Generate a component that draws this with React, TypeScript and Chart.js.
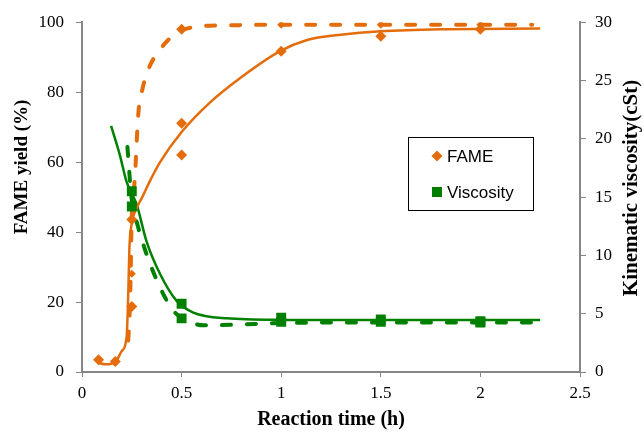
import React, { useEffect, useRef } from 'react';
import { Chart, registerables } from 'chart.js';

Chart.register(...registerables);

const ORANGE = '#E46C0A';
const GREEN = '#008000';
const AXIS_GRAY = '#868686';
const SERIF = '"Liberation Serif", "Times New Roman", serif';
const SANS = '"Liberation Sans", Arial, sans-serif';

// FAME yield markers (%), large diamonds
const fameTimeA = [0.083, 0.167, 0.25, 0.25, 0.5, 0.5, 0.5, 1, 1.5, 2];
const fameYieldA = [3.5, 3, 18.7, 43.6, 71.1, 62, 98, 91.7, 96, 98];
// FAME yield markers (%), small diamonds
const fameTimeB = [0.25, 1, 1.5, 2];
const fameYieldB = [28.1, 99.3, 99.3, 99.3];

// FAME solid curve
const fameSolidTime = [0.083, 0.12, 0.167, 0.2, 0.224, 0.233, 0.238, 0.249, 0.274, 0.3, 0.34, 0.392, 0.5, 0.643, 0.793, 0.99, 1.13, 1.3, 1.5, 1.8, 2.3];
const fameSolidYield = [2.6, 2.2, 2.8, 6, 10, 24, 35.5, 42.2, 46.8, 49.7, 54.5, 60, 68.6, 77.1, 84, 91.6, 94.9, 96.4, 97.4, 98.0, 98.2];

// FAME dashed curve
const fameDashTime = [0.232, 0.24, 0.245, 0.249, 0.258, 0.266, 0.283, 0.3, 0.333, 0.392, 0.475, 0.59, 0.73, 1.0, 1.5, 2.26];
const fameDashYield = [9, 18, 30, 43, 50, 56.3, 74, 80, 86.5, 92.2, 96.9, 98.8, 99.1, 99.3, 99.3, 99.3];

// Viscosity markers (cSt)
const viscTime = [0.25, 0.25, 0.5, 0.5, 1, 1, 1.5, 1.5, 2, 2];
const viscValue = [15.5, 14.2, 5.85, 4.6, 4.65, 4.3, 4.5, 4.3, 4.35, 4.25];

// Viscosity solid curve
const viscSolidTime = [0.146, 0.19, 0.224, 0.25, 0.274, 0.324, 0.392, 0.475, 0.559, 0.726, 1.0, 1.5, 2.3];
const viscSolidValue = [21.1, 18.6, 16.3, 15.3, 14.4, 11.2, 8.4, 6.1, 5.1, 4.6, 4.47, 4.45, 4.45];

// Viscosity dashed curve
const viscDashTime = [0.228, 0.236, 0.245, 0.255, 0.274, 0.324, 0.392, 0.458, 0.525, 0.61, 0.76, 1.0, 1.5, 2.28];
const viscDashValue = [19.3, 17.5, 15.5, 14.2, 12.9, 10.1, 7.25, 5.27, 4.42, 4.0, 4.05, 4.2, 4.25, 4.25];

const xTitle = 'Reaction time (h)';
const yTitle = 'FAME yield (%)';
const y2Title = 'Kinematic viscosity(cSt)';
const legendLabels = ['FAME', 'Viscosity'];

const zip = (xs: number[], ys: number[]) => xs.map((x, i) => ({ x, y: ys[i] }));

const overlayPlugin = {
  id: 'overlay',
  afterDraw(chart: any) {
    const ctx = chart.ctx as CanvasRenderingContext2D;
    const area = chart.chartArea;
    ctx.save();
    ctx.fillStyle = '#000';
    ctx.textAlign = 'center';
    ctx.textBaseline = 'middle';
    // x title
    ctx.font = `bold 20px ${SERIF}`;
    ctx.fillText(xTitle, (area.left + area.right) / 2, 420);
    // left title
    ctx.font = `bold 19px ${SERIF}`;
    ctx.save();
    ctx.translate(22.5, 167);
    ctx.rotate(-Math.PI / 2);
    ctx.fillText(yTitle, 0, 0);
    ctx.restore();
    // right title
    ctx.font = `bold 21px ${SERIF}`;
    ctx.save();
    ctx.translate(632, 188);
    ctx.rotate(-Math.PI / 2);
    ctx.fillText(y2Title, 0, 0);
    ctx.restore();

    // legend box
    ctx.strokeStyle = '#000';
    ctx.lineWidth = 1;
    ctx.strokeRect(408.5, 137.5, 125, 73);
    // diamond
    ctx.fillStyle = ORANGE;
    ctx.beginPath();
    ctx.moveTo(437, 150.5);
    ctx.lineTo(442.5, 156);
    ctx.lineTo(437, 161.5);
    ctx.lineTo(431.5, 156);
    ctx.closePath();
    ctx.fill();
    // square
    ctx.fillStyle = GREEN;
    ctx.fillRect(432, 187, 10, 10);
    ctx.fillStyle = '#000';
    ctx.font = `17px ${SANS}`;
    ctx.textAlign = 'left';
    ctx.fillText(legendLabels[0], 447, 157);
    ctx.fillText(legendLabels[1], 447, 193);
    ctx.restore();
  },
};

export default function App() {
  const ref = useRef<HTMLCanvasElement | null>(null);

  useEffect(() => {
    if (!ref.current) return;
    const tickFont = { family: SERIF, size: 17 };
    const grid = { drawOnChartArea: false, drawTicks: true, tickLength: 6, color: AXIS_GRAY, lineWidth: 1 };
    const border = { display: true, color: AXIS_GRAY, width: 2 };

    const chart = new Chart(ref.current, {
      type: 'scatter',
      data: {
        datasets: [
          {
            label: 'FAME',
            data: zip(fameTimeA, fameYieldA),
            yAxisID: 'y',
            pointStyle: 'rectRot',
            pointRadius: 5.5,
            backgroundColor: ORANGE,
            borderColor: ORANGE,
            borderWidth: 0,
            showLine: false,
          },
          {
            label: 'FAME b',
            data: zip(fameTimeB, fameYieldB),
            yAxisID: 'y',
            pointStyle: 'rectRot',
            pointRadius: 4,
            backgroundColor: ORANGE,
            borderColor: ORANGE,
            borderWidth: 0,
            showLine: false,
          },
          {
            label: 'Viscosity',
            data: zip(viscTime, viscValue),
            yAxisID: 'y2',
            pointStyle: 'rect',
            pointRadius: 7,
            backgroundColor: GREEN,
            borderColor: GREEN,
            borderWidth: 0,
            showLine: false,
          },
          {
            label: 'FAME fit',
            data: zip(fameSolidTime, fameSolidYield),
            yAxisID: 'y',
            showLine: true,
            pointRadius: 0,
            borderColor: ORANGE,
            borderWidth: 2.5,
            cubicInterpolationMode: 'monotone',
            fill: false,
          },
          {
            label: 'FAME dash',
            data: zip(fameDashTime, fameDashYield),
            yAxisID: 'y',
            showLine: true,
            pointRadius: 0,
            borderColor: ORANGE,
            borderWidth: 4,
            borderDash: [9, 16],
            borderCapStyle: 'round',
            cubicInterpolationMode: 'monotone',
            fill: false,
          },
          {
            label: 'Visc fit',
            data: zip(viscSolidTime, viscSolidValue),
            yAxisID: 'y2',
            showLine: true,
            pointRadius: 0,
            borderColor: GREEN,
            borderWidth: 2.5,
            cubicInterpolationMode: 'monotone',
            fill: false,
          },
          {
            label: 'Visc dash',
            data: zip(viscDashTime, viscDashValue),
            yAxisID: 'y2',
            showLine: true,
            pointRadius: 0,
            borderColor: GREEN,
            borderWidth: 4,
            borderDash: [9, 16],
            borderCapStyle: 'round',
            cubicInterpolationMode: 'monotone',
            fill: false,
          },
        ] as any,
      },
      options: {
        animation: false,
        responsive: false,
        maintainAspectRatio: false,
        layout: { padding: { top: 19, left: 0, right: 0, bottom: 0 } },
        plugins: { legend: { display: false }, tooltip: { enabled: false } },
        scales: {
          x: {
            type: 'linear',
            position: 'bottom',
            min: 0,
            max: 2.5,
            ticks: { stepSize: 0.5, color: '#000', font: tickFont, padding: 6, callback: (v: any) => String(v) },
            grid: { ...grid, tickLength: 5 },
            border,
            afterFit: (s: any) => { s.height = 60; },
          },
          y: {
            type: 'linear',
            position: 'left',
            min: 0,
            max: 100,
            ticks: { stepSize: 20, color: '#000', font: tickFont, padding: 12, callback: (v: any) => String(v) },
            grid,
            border,
            afterFit: (s: any) => { s.width = 82; },
          },
          y2: {
            type: 'linear',
            position: 'right',
            min: 0,
            max: 30,
            ticks: { stepSize: 5, color: '#000', font: tickFont, padding: 9, callback: (v: any) => String(v) },
            grid,
            border,
            afterFit: (s: any) => { s.width = 64; },
          },
        },
      } as any,
      plugins: [overlayPlugin],
    });
    return () => chart.destroy();
  }, []);

  return (
    <div style={{ position: 'absolute', left: 0, top: 0, width: 644, height: 432, background: '#fff' }}>
      <canvas ref={ref} width={644} height={432} style={{ width: 644, height: 432 }} />
    </div>
  );
}
